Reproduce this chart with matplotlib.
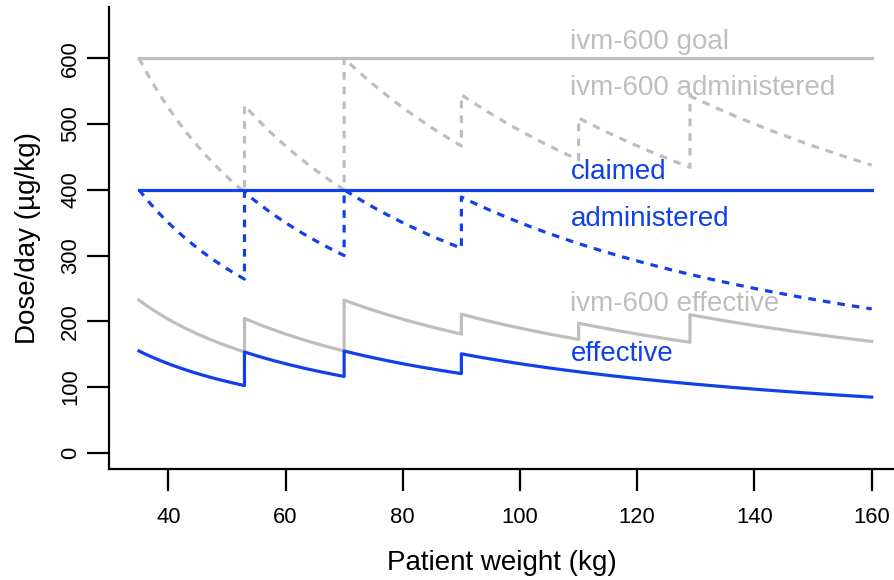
import numpy as np
import matplotlib.pyplot as plt

plt.rcParams['font.family'] = ['Liberation Sans', 'DejaVu Sans']

# weight bands (kg) and total daily dose in each band (ug)
ivm_edges = [35, 53, 70, 90, 110, 129, 160]
ivm_totals = [21000, 28000, 42000, 49000, 56000, 70000]
std_edges = [35, 53, 70, 90, 160]
std_totals = [14000, 21000, 28000, 35000]
effective_fraction = 0.387
ivm_goal = 600
claimed = 400

labels = ["ivm-600 goal", "ivm-600 administered", "claimed",
          "administered", "ivm-600 effective", "effective"]
label_y = [624, 554, 427, 355, 227, 150]

gray = '#bebebe'
blue = '#1040e8'


def step_curve(edges, totals, factor=1.0):
    ws, ds = [], []
    for lo, hi, tot in zip(edges[:-1], edges[1:], totals):
        w = np.linspace(lo, hi, 60)
        ws.append(w)
        ds.append(tot * factor / w)
    return np.concatenate(ws), np.concatenate(ds)


fig = plt.figure(figsize=(8.94, 5.8), dpi=100)
ax = fig.add_axes([0.122, 0.191, 0.878, 0.797])

lw = 2.3
dash = (0, (2.4, 2.2))

# ivm-600 curves
ax.plot([35, 160], [ivm_goal, ivm_goal], color=gray, lw=lw)
w, d = step_curve(ivm_edges, ivm_totals)
ax.plot(w, d, color=gray, lw=lw, linestyle=dash)
w, d = step_curve(ivm_edges, ivm_totals, effective_fraction)
ax.plot(w, d, color=gray, lw=lw)

# standard dosing curves
ax.plot([35, 160], [claimed, claimed], color=blue, lw=lw)
w, d = step_curve(std_edges, std_totals)
ax.plot(w, d, color=blue, lw=lw, linestyle=dash)
w, d = step_curve(std_edges, std_totals, effective_fraction)
ax.plot(w, d, color=blue, lw=lw)

colors = [gray, gray, blue, blue, gray, blue]
for txt, y, c in zip(labels, label_y, colors):
    ax.text(108.6, y, txt, color=c, fontsize=20, ha='left', va='center')

ax.set_xlim(29.9, 163.8)
ax.set_ylim(-25, 678)
ax.set_xticks([40, 60, 80, 100, 120, 140, 160])
ax.set_yticks([0, 100, 200, 300, 400, 500, 600])
ax.set_yticklabels([str(v) for v in [0, 100, 200, 300, 400, 500, 600]],
                   rotation=90, va='center')
ax.tick_params(direction='out', length=16, width=1.6, labelsize=15.8)
ax.tick_params(axis='x', pad=11)
ax.tick_params(axis='y', pad=4)
ax.spines['top'].set_visible(False)
ax.spines['right'].set_visible(False)
ax.spines['left'].set_linewidth(1.6)
ax.spines['bottom'].set_linewidth(1.6)
ax.set_xlabel("Patient weight (kg)", fontsize=20, labelpad=16)
ax.set_ylabel("Dose/day (µg/kg)", fontsize=20, labelpad=14)

fig.savefig('out.png', dpi=100)
